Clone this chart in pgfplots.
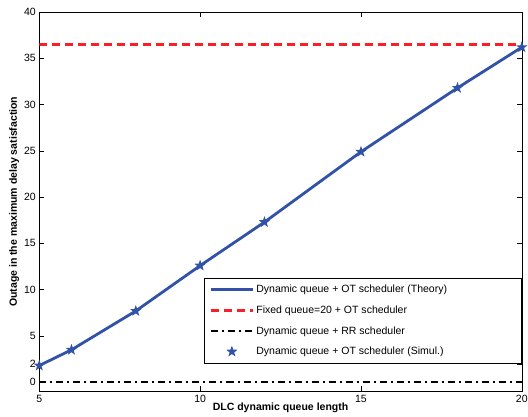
\documentclass[border={6pt 0pt -3pt 5pt}]{standalone}
\usepackage{pgfplots}
\pgfplotsset{compat=1.18}
\usepackage{fontspec}
\setmainfont{Liberation Sans}
\definecolor{myblue}{RGB}{50,82,168}
\definecolor{myred}{RGB}{250,30,40}
\pgfdeclareplotmark{pentastar}{%
  \pgfpathmoveto{\pgfpointpolar{90}{\pgfplotmarksize}}%
  \pgfpathlineto{\pgfpointpolar{126}{0.4\pgfplotmarksize}}%
  \pgfpathlineto{\pgfpointpolar{162}{\pgfplotmarksize}}%
  \pgfpathlineto{\pgfpointpolar{198}{0.4\pgfplotmarksize}}%
  \pgfpathlineto{\pgfpointpolar{234}{\pgfplotmarksize}}%
  \pgfpathlineto{\pgfpointpolar{270}{0.4\pgfplotmarksize}}%
  \pgfpathlineto{\pgfpointpolar{306}{\pgfplotmarksize}}%
  \pgfpathlineto{\pgfpointpolar{342}{0.4\pgfplotmarksize}}%
  \pgfpathlineto{\pgfpointpolar{18}{\pgfplotmarksize}}%
  \pgfpathlineto{\pgfpointpolar{54}{0.4\pgfplotmarksize}}%
  \pgfpathclose
  \pgfusepathqfill}
\pgfplotsset{
  linelegend/.style={legend image code/.code={\draw[##1] (0pt,0pt) -- (42pt,0pt);}},
  starlegend/.style={legend image code/.code={\draw[##1] plot coordinates {(21pt,0pt)};}},
}
\begin{document}
\begin{tikzpicture}
\begin{axis}[
  scale only axis,
  width=482pt, height=379pt,
  xmin=5, xmax=20, ymin=-1, ymax=40,
  xtick={5,10,15,20},
  ytick={0,2,5,10,15,20,25,30,35,40},
  tick pos=both,
  tick align=inside,
  major tick length=5pt,
  tick style={black, thin},
  axis line style={black, thin},
  every tick label/.append style={font=\fontsize{10.5}{12}\selectfont},
  /pgf/number format/assume math mode=true,
  xlabel={\textbf{DLC dynamic queue length}},
  ylabel={\textbf{Outage in the maximum delay satisfaction}},
  label style={font=\fontsize{10.5}{12}\selectfont},
  xlabel style={yshift=6pt},
  ylabel style={yshift=-2pt},
  legend style={at={(rel axis cs:1,0.074)}, anchor=south east, font=\fontsize{10.5}{12}\selectfont, draw=black, row sep=7.5pt, inner xsep=5pt, inner ysep=5pt, cells={anchor=west}},
  legend cell align=left,
  linelegend,
]
\addplot[myblue, line width=2.8pt] coordinates {(5,1.8) (6,3.5) (8,7.7) (10,12.6) (12,17.3) (15,24.9) (18,31.8) (20,36.2)};
\addlegendentry{\makebox[258pt][l]{Dynamic queue + OT scheduler (Theory)}}
\addplot[myred, line width=2.5pt, dash pattern=on 8pt off 5pt] coordinates {(5,36.5) (20,36.5)};
\addlegendentry{Fixed queue=20 + OT scheduler}
\addplot[black, line width=2.5pt, dash pattern=on 7pt off 4pt on 2pt off 4pt] coordinates {(5,0) (20,0)};
\addlegendentry{Dynamic queue + RR scheduler}
\addplot[only marks, mark=pentastar, myblue, mark size=6pt, starlegend] coordinates {(5,1.8) (6,3.5) (8,7.7) (10,12.6) (12,17.3) (15,24.9) (18,31.8) (20,36.2)};
\addlegendentry{Dynamic queue + OT scheduler (Simul.)}
\end{axis}
\end{tikzpicture}
\end{document}
